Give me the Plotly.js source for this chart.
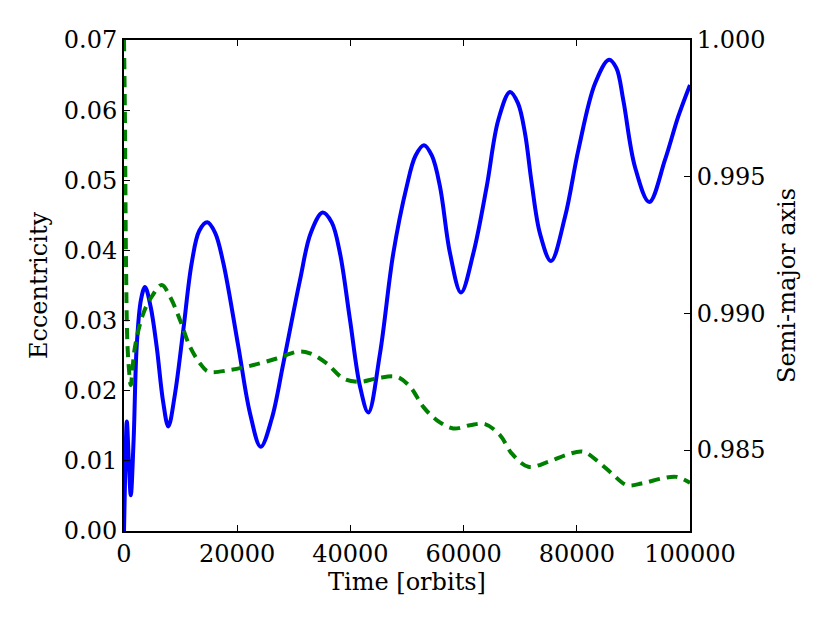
<!DOCTYPE html>
<html>
<head>
<meta charset="utf-8">
<script src="https://cdn.plot.ly/plotly-3.0.1.min.js"></script>
<style>
	html, body { margin: 0; padding: 0; background: #ffffff; }
	#plot { width: 830px; height: 623px; }
</style>
</head>
<body>
<div id="plot"></div>
<script>
// eccentricity (left axis)
const eccTime = [0, 250, 500, 850, 1200, 1700, 2240, 3000, 3710, 4700, 5770, 6900, 7830, 9000,
	10480, 11960, 13300, 14720, 16100, 17550, 20200, 22260, 24150, 26100, 28150, 31100, 33000,
	35100, 36700, 38160, 39930, 41700, 43170, 45230, 47580, 49940, 51500, 53000, 54400, 55830,
	57600, 59540, 61720, 64080, 66130, 68200, 69600, 70850, 72030, 73500, 75440, 77920, 80270,
	83220, 85690, 87000, 88220, 90280, 92810, 95580, 97930, 100000];
const eccValue = [0.0, 0.0100, 0.0156, 0.0100, 0.0051, 0.0130, 0.0263, 0.0330, 0.0348, 0.0320,
	0.0263, 0.0185, 0.0149, 0.0195, 0.0287, 0.0382, 0.0428, 0.0440, 0.0425, 0.0382, 0.0263,
	0.0168, 0.0120, 0.0160, 0.0239, 0.0358, 0.0425, 0.0454, 0.0440, 0.0396, 0.0301, 0.0206,
	0.0169, 0.0253, 0.0396, 0.0491, 0.0535, 0.0550, 0.0535, 0.0491, 0.0396, 0.0340, 0.0396,
	0.0491, 0.0586, 0.0626, 0.0610, 0.0567, 0.0496, 0.0424, 0.0385, 0.0448, 0.0543, 0.0638,
	0.0672, 0.0660, 0.0614, 0.0519, 0.0469, 0.0529, 0.0591, 0.0636];

// semi-major axis (right axis)
const axisTime = [0, 150, 350, 600, 900, 1180, 1940, 3420, 4890, 6660, 8130, 9890, 11660, 13430,
	14900, 18730, 22850, 26980, 30800, 32860, 35810, 38750, 41700, 44640, 48180, 50530, 52880,
	55240, 58180, 61130, 63780, 66430, 68490, 71430, 74970, 78500, 81150, 83800, 86160, 88820,
	91470, 95000, 97650, 100000];
const axisValue = [1.0000, 0.9975, 0.9920, 0.9889, 0.9879, 0.98738, 0.98878, 0.99000, 0.99061,
	0.99104, 0.99061, 0.98976, 0.98878, 0.98817, 0.98787, 0.98793, 0.98811, 0.98835, 0.98860,
	0.98854, 0.98817, 0.98762, 0.98750, 0.98762, 0.98768, 0.98732, 0.98658, 0.98610, 0.98579,
	0.98591, 0.98595, 0.98555, 0.98488, 0.98439, 0.98457, 0.98485, 0.98494, 0.98457, 0.98415,
	0.98372, 0.98378, 0.98396, 0.98402, 0.98380];

const xTicks = [0, 20000, 40000, 60000, 80000, 100000];
const rightTicks = [0.985, 0.990, 0.995, 1.000];

const font = {family: 'DejaVu Serif', size: 24, color: '#000000'};

const trace1 = {
	x: eccTime,
	y: eccValue,
	type: 'scatter',
	mode: 'lines',
	line: {color: '#0000ff', width: 4, shape: 'spline', smoothing: 1},
	hoverinfo: 'skip'
};

const trace2 = {
	x: axisTime,
	y: axisValue,
	yaxis: 'y2',
	type: 'scatter',
	mode: 'lines',
	line: {color: '#008000', width: 4, dash: '11px,7px', shape: 'spline', smoothing: 1},
	hoverinfo: 'skip'
};

const axisCommon = {
	showline: true,
	linecolor: '#000000',
	linewidth: 2,
	ticks: 'inside',
	ticklen: 6,
	tickwidth: 1,
	tickcolor: '#000000',
	showgrid: false,
	zeroline: false,
	tickfont: font
};

const layout = {
	width: 830,
	height: 623,
	margin: {l: 124, r: 140, t: 40, b: 92},
	paper_bgcolor: '#ffffff',
	plot_bgcolor: '#ffffff',
	showlegend: false,
	font: font,
	xaxis: Object.assign({}, axisCommon, {
		range: [0, 100000],
		tickvals: xTicks,
		ticktext: xTicks.map(String),
		mirror: 'ticks',
		title: {text: 'Time [orbits]', font: font, standoff: 6}
	}),
	yaxis: Object.assign({}, axisCommon, {
		range: [0, 0.07],
		dtick: 0.01,
		tickformat: '.2f',
		title: {text: 'Eccentricity', font: font, standoff: 9}
	}),
	yaxis2: Object.assign({}, axisCommon, {
		overlaying: 'y',
		side: 'right',
		range: [0.98204, 1.0],
		tickvals: rightTicks,
		tickformat: '.3f',
		title: {text: 'Semi-major axis', font: font, standoff: 14}
	})
};

Plotly.newPlot('plot', [trace1, trace2], layout, {staticPlot: true});
</script>
</body>
</html>
